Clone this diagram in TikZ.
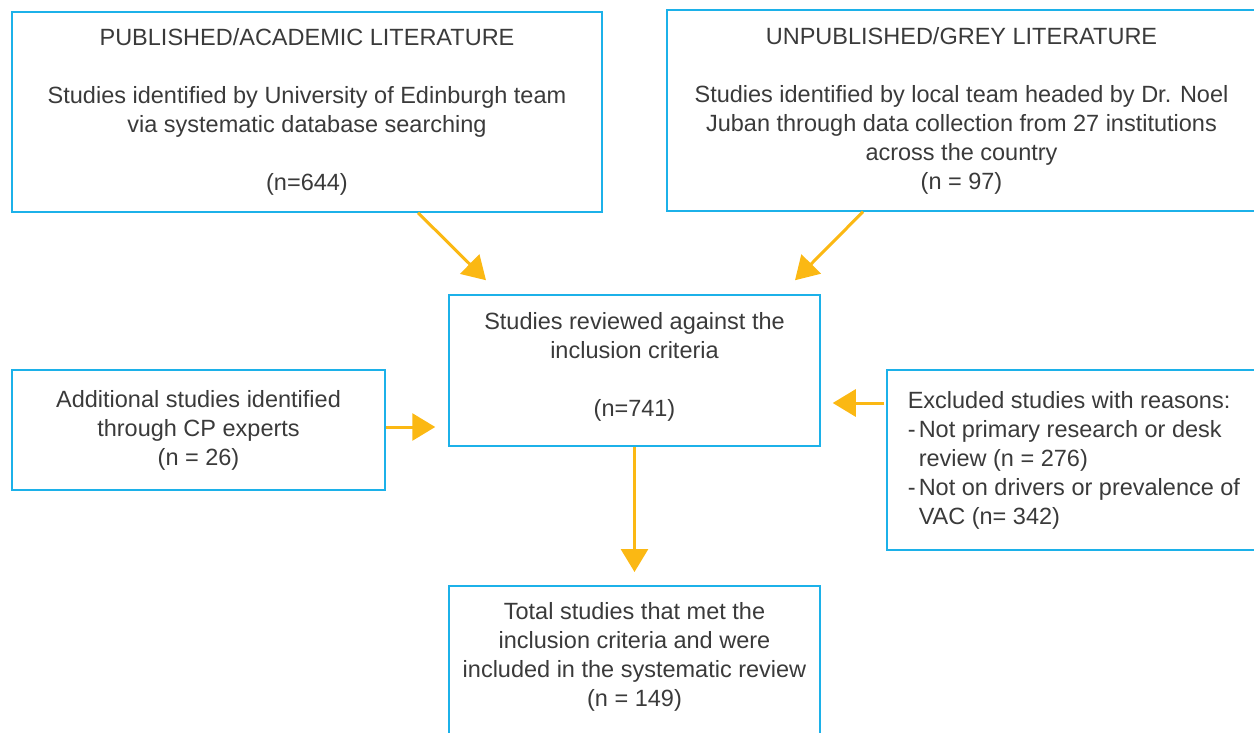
\documentclass[tikz,border=0pt]{standalone}
\usepackage{fontspec}
\setmainfont{Liberation Sans}
\usepackage{xcolor}
\usetikzlibrary{arrows.meta}
\definecolor{boxblue}{HTML}{1CB1E9}
\definecolor{arrowyellow}{HTML}{FBB813}
\definecolor{textgrey}{HTML}{3A3A3A}

\begin{document}
\begin{tikzpicture}[x=1pt, y=-1pt,
        box/.style = {draw=boxblue, line width=1.5pt, align=center,
                      text=textgrey, inner sep=0pt,
                      font=\fontsize{23.5}{29}\selectfont},
        arr/.style = {draw=arrowyellow, line width=3pt,
                      -{Triangle[length=23pt, width=27pt]}}]
    \useasboundingbox (0,0) rectangle (1254,733);
    \node[box, minimum width=590pt, minimum height=200pt] (pub) at (307,112)
        {PUBLISHED/ACADEMIC LITERATURE\\[29pt]Studies identified by University of Edinburgh team\\via systematic database searching\\[29pt](n=644)};
    \node[box, minimum width=589pt, minimum height=201pt] (unpub) at (961.5,110.5)
        {UNPUBLISHED/GREY LITERATURE\\[29pt]Studies identified by local team headed by Dr. Noel\\Juban through data collection from 27 institutions\\across the country\\(n = 97)};
    \node[box, minimum width=371pt, minimum height=151pt, text depth=12pt] (rev) at (634.5,370.5)
        {Studies reviewed against the\\inclusion criteria\\[29pt](n=741)};
    \node[box, minimum width=373pt, minimum height=120pt] (add) at (198.5,430)
        {Additional studies identified\\through CP experts\\(n = 26)};
    \node[box, anchor=west, align=left, inner xsep=21pt,
          minimum height=180pt] (excl) at (886,460)
        {Excluded studies with reasons:\\
         \makebox[11pt][l]{-}Not primary research or desk\\
         \hspace*{11pt}review (n = 276)\\
         \makebox[11pt][l]{-}Not on drivers or prevalence of\\
         \hspace*{11pt}VAC (n= 342)};
    \node[box, anchor=north, minimum width=371pt, inner ysep=17pt,
          text depth=100pt] (total) at (634.5,585)
        {Total studies that met the\\inclusion criteria and were\\included in the systematic review\\(n = 149)};
    % arrows into the review box
    \draw[arr] ([xshift=111pt]pub.south) -- ([xshift=-148.5pt, yshift=14pt]rev.north);
    \draw[arr] ([xshift=-98.5pt]unpub.south) -- ([xshift=160.5pt, yshift=14pt]rev.north);
    \draw[arr, shorten >=13pt] ([yshift=3pt]add.east) -- ([yshift=3pt]add.east -| rev.west);
    \draw[arr] ([xshift=-2pt, yshift=57pt]excl.west) -- ([xshift=12pt, yshift=-32.5pt]rev.east);
    \draw[arr, shorten >=13pt] (rev.south) -- (total.north);
\end{tikzpicture}
\end{document}
